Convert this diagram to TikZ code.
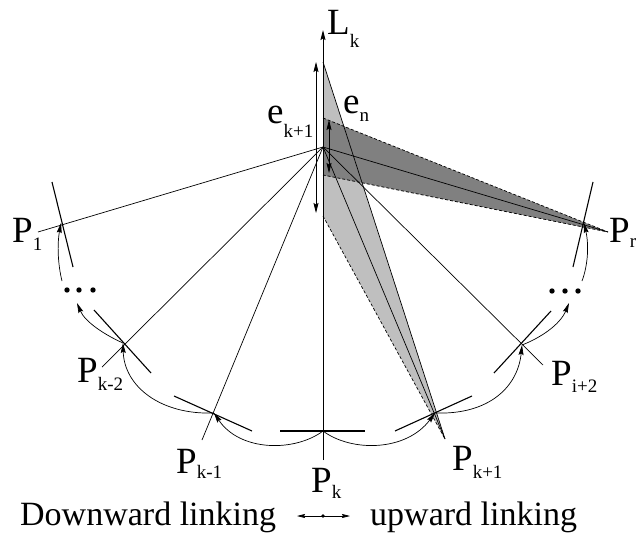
\documentclass[tikz,border=0pt]{standalone}
\usepackage{fontspec}
\setmainfont{Liberation Serif}
\usetikzlibrary{arrows.meta}
\newcommand{\sublab}[3]{#1\raisebox{-#3}{\fontsize{19}{19}\selectfont #2}}

\begin{document}
\begin{tikzpicture}[x=1pt,y=-1pt,
  >={Stealth[length=10pt,width=5pt,inset=1.5pt]},
  lab/.style={anchor=base west,inner sep=0pt,font=\fontsize{37}{37}\selectfont},
  note/.style={anchor=base west,inner sep=0pt,font=\fontsize{34}{34}\selectfont},
  ray/.style={line width=0.7pt},
  tangent/.style={line width=1.1pt},
  link/.style={->,line width=0.7pt},
  coneedge/.style={line width=0.7pt,dash pattern=on 3pt off 2pt}]
\definecolor{coneLight}{HTML}{BFBFBF}
\definecolor{coneDark}{HTML}{808080}
\useasboundingbox (0,0) rectangle (637,535);
% hub and chain points
\coordinate (O) at (323,147);
\foreach \n/\x/\y in {P1/61/223,Pkm2/123/343,Pkm1/214/413,Pk/323/431,Pkp1/435/413,Pip2/522/345,Pr/584/223}
  \coordinate (\n) at (\x,\y);
% far ends of the rays
\foreach \n/\x/\y in {R1/38/232,Rkm2/102/367,Rkm1/202/440,Rk/323/460,Rkp1/445/439,Rip2/543/365,Rr/608/232}
  \coordinate (\n) at (\x,\y);
\coordinate (Ltip) at (323,30);
\coordinate (Ltop) at (323,62);
\coordinate (Lbot) at (323,216);
\coordinate (Dtop) at (323,118);
\coordinate (Dbot) at (323,175);
% cones
\fill[coneLight] (Ltop) -- (Rkp1) -- (Lbot) -- cycle;
\fill[coneDark] (Dtop) -- (Rr) -- (Dbot) -- cycle;
\draw[coneedge] (Lbot) -- (Rkp1);
\draw[coneedge] (Dtop) -- (Rr) -- (Dbot);
\draw[ray] (Ltop) -- (Rkp1);
% rays from the hub
\foreach \r in {R1,Rkm2,Rkm1,Rkp1,Rip2,Rr}
  \draw[ray] (O) -- (\r);
\draw[->,line width=1pt] (Rk) -- (Ltip);
% interval arrows on L_k
\coordinate (eka) at (316,62);
\coordinate (ekb) at (316,213);
\coordinate (ena) at (329,120);
\coordinate (enb) at (329,173);
\draw[<->,ray] (eka) -- (ekb);
\draw[<->,ray] (ena) -- (enb);
% tangents
\foreach \n/\xa/\ya/\xb/\yb in {T1/52/182/73/267,Tkm2/94/310/151/373,Tkm1/174/396/252/431,Tk/280/431/365/431,Tkp1/395/431/472/396,Tip2/494/373/551/311,Tr/593/182/573/267}{
  \coordinate (\n a) at (\xa,\ya);
  \coordinate (\n b) at (\xb,\yb);
  \draw[tangent] (\n a) -- (\n b);
}
% linking arcs
\coordinate (dotsLin) at (77,303);
\coordinate (dotsLout) at (62,281);
\coordinate (dotsRin) at (569,303);
\coordinate (dotsRout) at (582,281);
\draw[link] (Pk) .. controls (295,452) and (240,452) .. (Pkm1);
\draw[link] (Pkm1) .. controls (160,415) and (124,386) .. (Pkm2);
\draw[link] (Pkm2) .. controls (105,335) and (85,322) .. (dotsLin);
\draw[link] (dotsLout) .. controls (58,265) and (57,245) .. (P1);
\draw[link] (Pk) .. controls (351,452) and (406,452) .. (Pkp1);
\draw[link] (Pkp1) .. controls (490,415) and (518,386) .. (Pip2);
\draw[link] (Pip2) .. controls (540,338) and (560,325) .. (dotsRin);
\draw[link] (dotsRout) .. controls (588,265) and (589,245) .. (Pr);
\foreach \x in {67,79,93}
  \fill (\x,290) circle (2.7);
\foreach \x in {552,565,578}
  \fill (\x,291) circle (2.7);
% labels
\node[lab] (lLk) at (327,35) {\sublab{L}{k}{13pt}};
\node[lab] (lek) at (267,123) {\sublab{e}{k+1}{14pt}};
\node[lab] (len) at (343,113) {\sublab{e}{n}{9pt}};
\node[lab] (lP1) at (12,242) {\sublab{P}{1}{8pt}};
\node[lab] (lPkm2) at (77,382) {\sublab{P}{k-2}{8pt}};
\node[lab] (lPkm1) at (176,473) {\sublab{P}{k-1}{5pt}};
\node[lab] (lPk) at (311,492) {\sublab{P}{k}{6pt}};
\node[lab] (lPkp1) at (452,470) {\sublab{P}{k+1}{8pt}};
\node[lab] (lPip2) at (551,385) {\sublab{P}{i+2}{7pt}};
\node[lab] (lPr) at (609,242) {\sublab{P}{r}{5pt}};
% legend
\node[note] (down) at (20,525) {Downward linking};
\node[note] (up) at (370,525) {upward linking};
\coordinate (legA) at (297,516);
\coordinate (legB) at (350,516);
\coordinate (legC) at (323,516);
\draw[{Stealth[length=8pt,width=4pt,inset=1pt]}-{Stealth[length=8pt,width=4pt,inset=1pt]},ray] (legA) -- (legB);
\fill (legC) circle (1.8);
\end{tikzpicture}
\end{document}
